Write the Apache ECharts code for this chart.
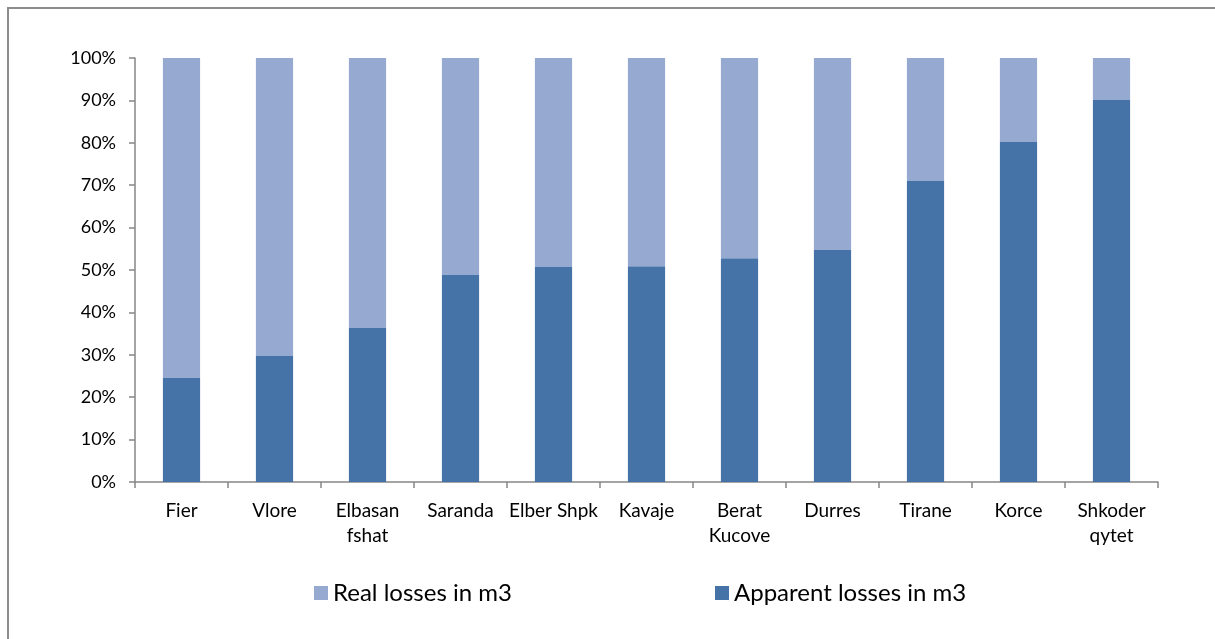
<!DOCTYPE html>
<html>
<head>
<meta charset="utf-8">
<script src="https://cdn.jsdelivr.net/npm/echarts@6/dist/echarts.min.js"></script>
<style>
html,body{margin:0;padding:0;background:#fff;}
#chart{width:1215px;height:639px;}
</style>
</head>
<body>
<div id="chart"></div>
<script>
var categories = ["Fier", "Vlore", "Elbasan\nfshat", "Saranda", "Elber Shpk", "Kavaje", "Berat\nKucove", "Durres", "Tirane", "Korce", "Shkoder\nqytet"];
var apparentLosses = [24.5, 29.7, 36.3, 48.8, 50.7, 50.9, 52.8, 54.7, 71.0, 80.2, 90.1];
var realLosses = [75.5, 70.3, 63.7, 51.2, 49.3, 49.1, 47.2, 45.3, 29.0, 19.8, 9.9];

var font = "Lato, 'Open Sans', sans-serif";
var axisColor = "#868686";

var chart = echarts.init(document.getElementById("chart"));
var option = {
    animation: false,
    backgroundColor: "#fff",
    graphic: [{
        type: "rect",
        shape: {x: 8, y: 8, width: 1220, height: 640},
        style: {fill: "none", stroke: "#8c8c8c", lineWidth: 2},
        silent: true
    }],
    grid: {left: 135, right: 57, top: 58, bottom: 157},
    legend: [{
        left: 309,
        top: 576,
        data: ["Real losses in m3"],
        itemWidth: 14,
        itemHeight: 14,
        icon: "rect",
        textStyle: {fontFamily: font, fontSize: 24, color: "#000", padding: [0, 0, 0, 0]}
    }, {
        left: 710,
        top: 576,
        data: ["Apparent losses in m3"],
        itemWidth: 14,
        itemHeight: 14,
        icon: "rect",
        textStyle: {fontFamily: font, fontSize: 24, color: "#000", padding: [0, 0, 0, 0]}
    }],
    xAxis: {
        type: "category",
        data: categories,
        axisLine: {lineStyle: {color: axisColor, width: 1.5}},
        axisTick: {show: true, alignWithLabel: false, length: 6, lineStyle: {color: axisColor, width: 1.5}},
        axisLabel: {
            interval: 0,
            margin: 16,
            fontFamily: font,
            fontSize: 19,
            color: "#000",
            lineHeight: 25
        }
    },
    yAxis: {
        type: "value",
        min: 0,
        max: 100,
        interval: 10,
        axisLine: {show: true, lineStyle: {color: axisColor, width: 1.5}},
        axisTick: {show: true, length: 6, lineStyle: {color: axisColor, width: 1.5}},
        splitLine: {show: false},
        axisLabel: {
            formatter: "{value}%",
            margin: 19,
            fontFamily: font,
            fontSize: 18,
            color: "#000"
        }
    },
    series: [{
        name: "Apparent losses in m3",
        type: "bar",
        stack: "total",
        barWidth: "40%",
        itemStyle: {color: "#4573a7"},
        data: apparentLosses
    }, {
        name: "Real losses in m3",
        type: "bar",
        stack: "total",
        barWidth: "40%",
        itemStyle: {color: "#95a9d1"},
        data: realLosses
    }]
};
chart.setOption(option);
window.addEventListener("resize", chart.resize);
</script>
</body>
</html>
